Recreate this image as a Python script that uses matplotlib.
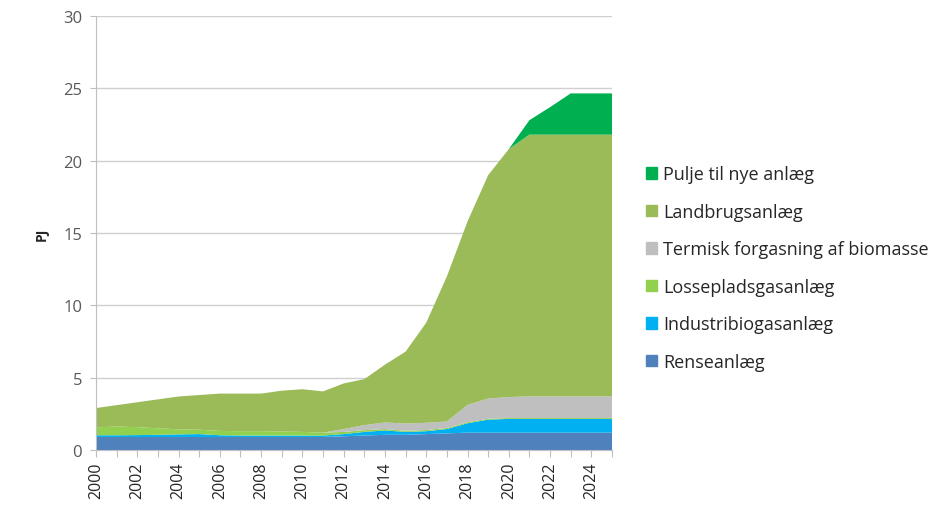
import matplotlib.pyplot as plt
from matplotlib.patches import Rectangle

years = list(range(2000, 2026))

renseanlaeg = [0.9, 0.9, 0.9, 0.9, 0.9, 0.9, 0.9, 0.9, 0.9, 0.9, 0.9, 0.9, 0.95,
               1.0, 1.05, 1.05, 1.1, 1.15, 1.2, 1.2, 1.2, 1.2, 1.2, 1.2, 1.2, 1.2]
industribiogas = [0.12, 0.12, 0.13, 0.15, 0.18, 0.2, 0.12, 0.1, 0.1, 0.1, 0.1, 0.1, 0.15,
                  0.25, 0.3, 0.2, 0.2, 0.3, 0.65, 0.9, 0.95, 0.95, 0.95, 0.95, 0.95, 0.95]
lossepladsgas = [0.55, 0.6, 0.55, 0.45, 0.35, 0.3, 0.3, 0.3, 0.3, 0.28, 0.25, 0.2, 0.15,
                 0.12, 0.1, 0.08, 0.08, 0.07, 0.07, 0.06, 0.06, 0.06, 0.06, 0.06, 0.06, 0.06]
termisk = [0, 0, 0, 0, 0, 0, 0, 0, 0, 0, 0, 0, 0.2,
           0.35, 0.45, 0.5, 0.5, 0.45, 1.2, 1.4, 1.45, 1.5, 1.5, 1.5, 1.5, 1.5]
landbrug = [1.33, 1.48, 1.72, 2.0, 2.27, 2.4, 2.58, 2.6, 2.6, 2.82, 2.95, 2.85, 3.15,
            3.18, 4.0, 4.97, 6.92, 10.03, 12.68, 15.44, 17.14, 18.09, 18.09, 18.09, 18.09, 18.09]
pulje = [0, 0, 0, 0, 0, 0, 0, 0, 0, 0, 0, 0, 0,
         0, 0, 0, 0, 0, 0, 0, 0, 1.0, 1.9, 2.85, 2.85, 2.85]

labels = ["Renseanlæg", "Industribiogasanlæg", "Lossepladsgasanlæg",
          "Termisk forgasning af biomasse", "Landbrugsanlæg", "Pulje til nye anlæg"]
colors = ["#4F81BD", "#00B0F0", "#92D050", "#BFBFBF", "#9BBB59", "#00B050"]

plt.rcParams['font.family'] = ['Open Sans', 'DejaVu Sans']

fig = plt.figure(figsize=(9.48, 5.06), dpi=100)
ax = fig.add_axes([96 / 948, 55 / 506, 516 / 948, 434 / 506])

ax.stackplot(years, renseanlaeg, industribiogas, lossepladsgas, termisk, landbrug, pulje,
             colors=colors, linewidth=0, zorder=3)

ax.set_xlim(2000, 2025)
ax.set_ylim(0, 30)
ax.set_yticks(range(0, 31, 5))
ax.set_xticks(years)
ax.set_xticklabels([str(y) if y % 2 == 0 else "" for y in years], rotation=90,
                   fontsize=11.5, color="#262626")
ax.tick_params(axis='y', labelsize=12, colors="#595959", length=4, color="#BFBFBF", pad=6)
ax.tick_params(axis='x', length=5, color="#BFBFBF", pad=3)
ax.grid(axis='y', color="#D0D0D0", linewidth=1, zorder=0)
ax.set_axisbelow(True)
for s in ['top', 'right']:
    ax.spines[s].set_visible(False)
for s in ['left', 'bottom']:
    ax.spines[s].set_color("#BFBFBF")
    ax.spines[s].set_zorder(4)
ax.set_ylabel("PJ", fontsize=10, fontweight='bold', color="#262626", labelpad=10)

handles = [Rectangle((0, 0), 1, 1, color=c) for c in colors][::-1]
fig.legend(handles, labels[::-1], loc='upper left', bbox_to_anchor=(630 / 948, 1 - 150 / 506),
           frameon=False, fontsize=13, labelcolor="#262626",
           handlelength=0.6, handleheight=0.6, handletextpad=0.35, labelspacing=1.08)

fig.savefig("out.png", dpi=100)
